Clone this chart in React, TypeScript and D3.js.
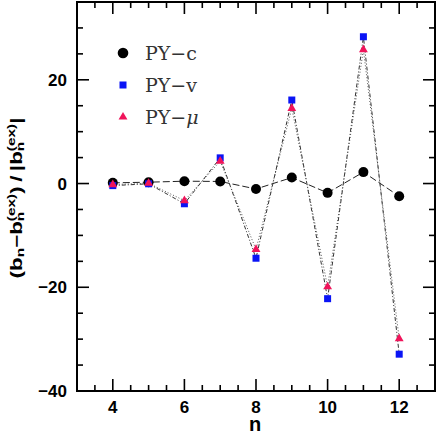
import React, { useEffect, useRef } from "react";
import * as d3 from "d3";

// n values and relative deviations
const nValues = [4, 5, 6, 7, 8, 9, 10, 11, 12];
const pyC = [0.13, 0.26, 0.45, 0.4, -1.05, 1.15, -1.8, 2.2, -2.45];
const pyV = [-0.4, -0.05, -3.9, 4.95, -14.4, 16.1, -22.2, 28.3, -32.9];
const pyMu = [-0.2, 0.05, -3.3, 4.3, -12.7, 14.5, -19.9, 25.8, -29.9];

const xMajorTicks = [4, 6, 8, 10, 12];
const yMajorTicks = [-40, -20, 0, 20];
const legendLabels = ["PY\u2212c", "PY\u2212v", "PY\u2212"];

function App() {
    const ref = useRef<SVGSVGElement>(null);

    let width = 436;
    let height = 434;
    let plot = { left: 77, right: 435, top: 2, bottom: 391 };

    let redColor = "#f0145a";
    let blueColor = "#0a14f5";
    let labelFont = "'Liberation Sans', Arial, sans-serif";

    useEffect(() => {
        let svg = d3.select(ref.current);
        svg.selectAll("*").remove();

        let x = d3.scaleLinear().domain([3, 13]).range([plot.left, plot.right]);
        let y = d3.scaleLinear().domain([-40, 35]).range([plot.bottom, plot.top]);

        // ticks on all four sides
        let xMinor = d3.range(3.5, 13, 0.5).filter((v) => xMajorTicks.indexOf(v) < 0);
        let yMinor = d3.range(-35, 35, 5).filter((v) => yMajorTicks.indexOf(v) < 0);
        let tickG = svg.append("g").attr("stroke", "#000").attr("stroke-width", 1.6);

        const addX = (vals: number[], len: number) => {
            vals.forEach((v) => {
                tickG.append("line").attr("x1", x(v)).attr("x2", x(v))
                    .attr("y1", plot.bottom).attr("y2", plot.bottom - len);
                tickG.append("line").attr("x1", x(v)).attr("x2", x(v))
                    .attr("y1", plot.top).attr("y2", plot.top + len);
            });
        };
        const addY = (vals: number[], len: number) => {
            vals.forEach((v) => {
                tickG.append("line").attr("y1", y(v)).attr("y2", y(v))
                    .attr("x1", plot.left).attr("x2", plot.left + len);
                tickG.append("line").attr("y1", y(v)).attr("y2", y(v))
                    .attr("x1", plot.right).attr("x2", plot.right - len);
            });
        };
        addX(xMajorTicks, 12);
        addX(xMinor, 6);
        addY(yMajorTicks, 12);
        addY(yMinor, 6);

        svg.append("rect")
            .attr("x", plot.left)
            .attr("y", plot.top)
            .attr("width", plot.right - plot.left)
            .attr("height", plot.bottom - plot.top)
            .attr("fill", "none")
            .attr("stroke", "#000")
            .attr("stroke-width", 2);

        // tick labels
        svg.selectAll(".xlab")
            .data(xMajorTicks)
            .enter()
            .append("text")
            .attr("x", (d) => x(d))
            .attr("y", 413)
            .attr("text-anchor", "middle")
            .style("font-family", labelFont)
            .style("font-weight", "bold")
            .style("font-size", "17px")
            .text((d) => String(d));

        svg.selectAll(".ylab")
            .data(yMajorTicks)
            .enter()
            .append("text")
            .attr("x", 67)
            .attr("y", (d) => y(d) + 6)
            .attr("text-anchor", "end")
            .style("font-family", labelFont)
            .style("font-weight", "bold")
            .style("font-size", "17px")
            .text((d) => (d < 0 ? "\u2212" + Math.abs(d) : String(d)));

        // axis titles
        svg.append("text")
            .attr("x", 255)
            .attr("y", 431)
            .attr("text-anchor", "middle")
            .style("font-family", labelFont)
            .style("font-weight", "bold")
            .style("font-size", "20px")
            .text("n");

        let yt = svg.append("text")
            .attr("transform", "translate(22,198) rotate(-90) scale(1.4,1)")
            .attr("text-anchor", "middle")
            .style("font-family", labelFont)
            .style("font-weight", "bold")
            .style("font-size", "16px");
        let subW = 0.611 * 11;
        yt.append("tspan").text("(b");
        yt.append("tspan").attr("dy", 2).style("font-size", "11px").text("n");
        yt.append("tspan").attr("dy", -2).text("\u2212b");
        yt.append("tspan").attr("dy", 2).style("font-size", "11px").text("n");
        yt.append("tspan").attr("dx", -subW).attr("dy", -9).style("font-size", "11px").text("(ex)");
        yt.append("tspan").attr("dy", 7).text(")\u2009/\u2009|b");
        yt.append("tspan").attr("dy", 2).style("font-size", "11px").text("n");
        yt.append("tspan").attr("dx", -subW).attr("dy", -9).style("font-size", "11px").text("(ex)");
        yt.append("tspan").attr("dy", 7).text("|");

        // lines
        const lineFor = (vals: number[]) =>
            d3.line<number>()
                .x((d, i) => x(nValues[i]))
                .y((d) => y(d))(vals);

        svg.append("path")
            .attr("d", lineFor(pyC))
            .attr("fill", "none")
            .attr("stroke", "#222")
            .attr("stroke-width", 1)
            .attr("stroke-dasharray", "7,3");

        svg.append("path")
            .attr("d", lineFor(pyV))
            .attr("fill", "none")
            .attr("stroke", "#333")
            .attr("stroke-width", 1)
            .attr("stroke-dasharray", "4,2,1,2");

        svg.append("path")
            .attr("d", lineFor(pyMu))
            .attr("fill", "none")
            .attr("stroke", "#555")
            .attr("stroke-width", 1)
            .attr("stroke-dasharray", "1,2");

        // markers
        svg.selectAll(".pyc")
            .data(pyC)
            .enter()
            .append("circle")
            .attr("cx", (d, i) => x(nValues[i]))
            .attr("cy", (d) => y(d))
            .attr("r", 5)
            .attr("fill", "#000");

        let sq = 7;
        svg.selectAll(".pyv")
            .data(pyV)
            .enter()
            .append("rect")
            .attr("x", (d, i) => x(nValues[i]) - sq / 2)
            .attr("y", (d) => y(d) - sq / 2)
            .attr("width", sq)
            .attr("height", sq)
            .attr("fill", blueColor);

        let tri = d3.symbol().type(d3.symbolTriangle).size(34);
        svg.selectAll(".pymu")
            .data(pyMu)
            .enter()
            .append("path")
            .attr("d", tri() as string)
            .attr("transform", (d, i) => "translate(" + x(nValues[i]) + "," + y(d) + ")")
            .attr("fill", redColor);

        // legend
        let legendY = [53, 85, 117];
        svg.append("circle").attr("cx", 123).attr("cy", legendY[0]).attr("r", 5.3).attr("fill", "#000");
        svg.append("rect").attr("x", 123 - sq / 2).attr("y", legendY[1] - sq / 2)
            .attr("width", sq).attr("height", sq).attr("fill", blueColor);
        svg.append("path").attr("d", tri() as string)
            .attr("transform", "translate(123," + legendY[2] + ")").attr("fill", redColor);

        legendLabels.forEach((lab, i) => {
            let t = svg.append("text")
                .attr("x", 145)
                .attr("y", legendY[i] + 7)
                .style("font-family", "'DejaVu Serif', serif")
                .style("font-size", "19px")
                .style("fill", "#333")
                .text(lab);
            if (i === 2) {
                t.append("tspan").style("font-style", "italic").text("\u03bc");
            }
        });
    }, []);

    return (
        <svg
            ref={ref}
            width={width}
            height={height}
            style={{ position: "absolute", left: 0, top: 0, background: "#fff" }}
        ></svg>
    );
}

export default App;
